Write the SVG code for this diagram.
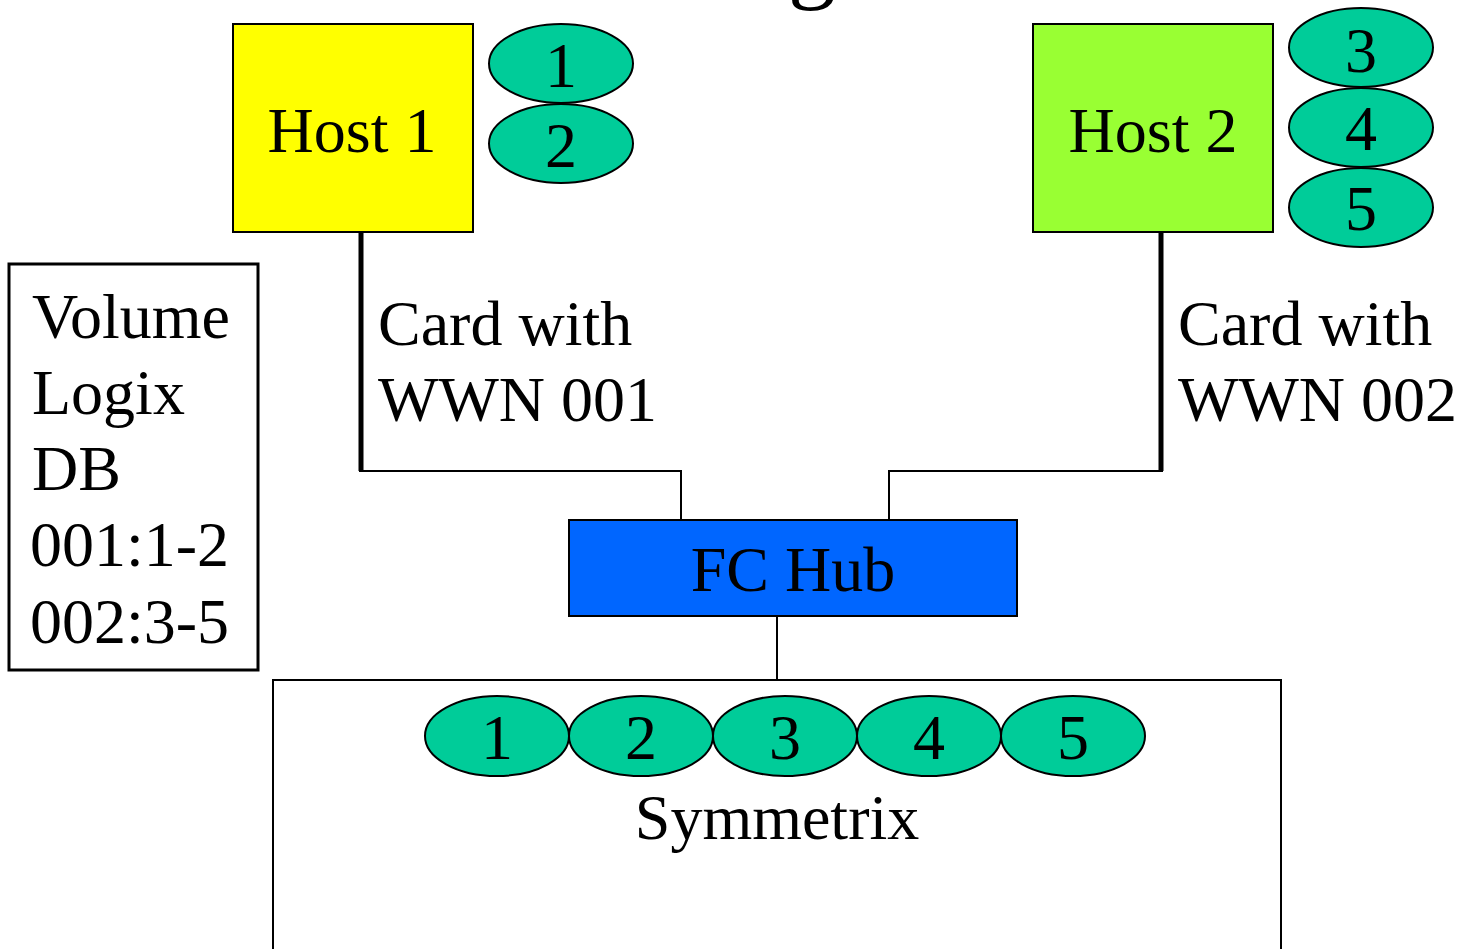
<svg xmlns="http://www.w3.org/2000/svg" width="1460" height="949" viewBox="0 0 1460 949">
<style>
text{font-family:"Liberation Serif","Times New Roman",serif;font-size:64px;fill:#000}
.c{text-anchor:middle}
.box{stroke:#000;stroke-width:2}
.vol{fill:#00CC99;stroke:#000;stroke-width:2}
.thin{fill:none;stroke:#000;stroke-width:2}
.thick{fill:none;stroke:#000;stroke-width:5}
</style>
<rect width="1460" height="949" fill="#fff"/>
<g id="title"><text class="c" x="812" y="-9" style="font-size:96px">g</text></g>
<g id="connectors">
<line class="thick" x1="361" y1="232" x2="361" y2="471"/>
<line class="thick" x1="1161" y1="232" x2="1161" y2="471"/>
<polyline class="thin" points="359,471 681,471 681,520"/>
<polyline class="thin" points="1163,471 889,471 889,520"/>
<line class="thin" x1="777" y1="616" x2="777" y2="680"/>
</g>
<g id="host1">
<rect class="box" x="233" y="24" width="240" height="208" fill="#FFFF00"/>
<text class="c" x="352" y="152">Host 1</text>
</g>
<g id="host1-vols">
<ellipse class="vol" cx="561" cy="63.5" rx="72" ry="39.5"/>
<text class="c" x="561" y="87">1</text>
<ellipse class="vol" cx="561" cy="143.5" rx="72" ry="39.5"/>
<text class="c" x="561" y="167">2</text>
</g>
<g id="host2">
<rect class="box" x="1033" y="24" width="240" height="208" fill="#99FF33"/>
<text class="c" x="1153" y="152">Host 2</text>
</g>
<g id="host2-vols">
<ellipse class="vol" cx="1361" cy="47.5" rx="72" ry="39.5"/>
<text class="c" x="1361" y="72">3</text>
<ellipse class="vol" cx="1361" cy="127.5" rx="72" ry="39.5"/>
<text class="c" x="1361" y="150">4</text>
<ellipse class="vol" cx="1361" cy="207.5" rx="72" ry="39.5"/>
<text class="c" x="1361" y="230">5</text>
</g>
<g id="card1">
<text x="378" y="345">Card with</text>
<text x="378" y="421">WWN 001</text>
</g>
<g id="card2">
<text x="1178" y="345">Card with</text>
<text x="1178" y="421">WWN 002</text>
</g>
<g id="vldb">
<rect x="9" y="264" width="249" height="406" fill="#fff" stroke="#000" stroke-width="3"/>
<text x="32" y="338">Volume</text>
<text x="32" y="414">Logix</text>
<text x="32" y="490">DB</text>
<text x="30" y="566">001:1-2</text>
<text x="30" y="643">002:3-5</text>
</g>
<g id="fchub">
<rect class="box" x="569" y="520" width="448" height="96" fill="#0066FF"/>
<text class="c" x="793" y="591">FC Hub</text>
</g>
<g id="symmetrix">
<rect class="box" x="273" y="680" width="1008" height="290" fill="#fff"/>
<ellipse class="vol" cx="497" cy="736" rx="72" ry="40"/>
<text class="c" x="497" y="759">1</text>
<ellipse class="vol" cx="641" cy="736" rx="72" ry="40"/>
<text class="c" x="641" y="759">2</text>
<ellipse class="vol" cx="785" cy="736" rx="72" ry="40"/>
<text class="c" x="785" y="759">3</text>
<ellipse class="vol" cx="929" cy="736" rx="72" ry="40"/>
<text class="c" x="929" y="759">4</text>
<ellipse class="vol" cx="1073" cy="736" rx="72" ry="40"/>
<text class="c" x="1073" y="759">5</text>
<text class="c" x="777" y="839">Symmetrix</text>
</g>
</svg>
